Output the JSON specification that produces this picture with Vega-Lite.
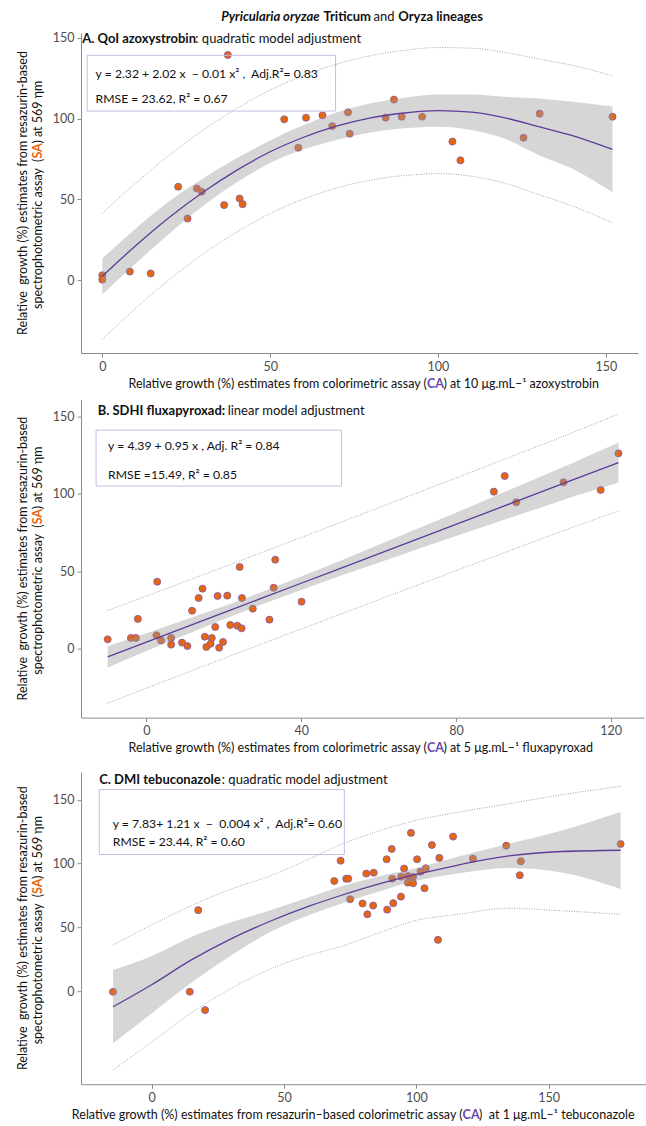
{
  "$schema": "https://vega.github.io/schema/vega-lite/v6.json",
  "padding": {"left": 16, "top": 11, "right": 0, "bottom": 0},
  "spacing": 8.6,
  "config": {
    "view": {"stroke": null},
    "font": "Lato",
    "axis": {"domainColor": "#8c8c8c", "tickColor": "#8c8c8c", "labelColor": "#4d4d4d", "labelFontSize": 12.5, "grid": false, "tickSize": 4, "labelPadding": 3, "title": null},
    "text": {"fontSize": 12.5, "baseline": "middle", "color": "#111111"}
  },
  "datasets": {
    "one": [{"k": 1}],
    "ptsA": [{"x":0,"y":3.1},{"x":0,"y":0.4},{"x":8.2,"y":5.4},{"x":14.4,"y":4.2},{"x":22.6,"y":57.9},{"x":25.4,"y":38.2},{"x":28.2,"y":56.8},{"x":29.6,"y":54.8},{"x":36.3,"y":46.5},{"x":37.4,"y":139.4},{"x":40.9,"y":50.6},{"x":41.8,"y":47.1},{"x":54.2,"y":99.6},{"x":58.4,"y":82.0},{"x":60.7,"y":100.6},{"x":65.6,"y":102.0},{"x":68.5,"y":95.4},{"x":73.2,"y":103.9},{"x":73.7,"y":90.7},{"x":84.4,"y":100.6},{"x":86.9,"y":111.8},{"x":89.2,"y":101.2},{"x":95.3,"y":101.2},{"x":104.3,"y":85.8},{"x":106.7,"y":74.2},{"x":125.5,"y":88.2},{"x":130.3,"y":103.1},{"x":152,"y":101.2}],
    "crvA": [{"x":0,"fit":2.5,"lo":-8.8,"hi":13.5,"plo":-36.5,"phi":41.5},{"x":10,"fit":21.5,"lo":10.5,"hi":32,"plo":-17.2,"phi":60.2},{"x":20,"fit":39,"lo":29,"hi":49,"plo":0.5,"phi":77.5},{"x":30,"fit":54.5,"lo":46,"hi":63,"plo":16.2,"phi":92.8},{"x":40,"fit":68,"lo":60.5,"hi":75.5,"plo":29.8,"phi":106.2},{"x":50,"fit":79.5,"lo":72.5,"hi":86.5,"plo":41.3,"phi":117.7},{"x":60,"fit":88.5,"lo":81,"hi":96,"plo":50.3,"phi":126.7},{"x":70,"fit":95.5,"lo":87,"hi":104,"plo":57.2,"phi":133.8},{"x":80,"fit":100.5,"lo":91.5,"hi":109.5,"plo":62,"phi":139},{"x":90,"fit":103.5,"lo":94,"hi":113,"plo":64.8,"phi":142.2},{"x":100,"fit":105,"lo":95,"hi":115,"plo":66,"phi":144},{"x":110,"fit":104,"lo":93,"hi":115,"plo":64.4,"phi":143.6},{"x":120,"fit":100.5,"lo":87.5,"hi":113.5,"plo":60,"phi":141},{"x":130,"fit":95,"lo":77.5,"hi":112.5,"plo":53,"phi":137},{"x":140,"fit":89.5,"lo":69,"hi":110.5,"plo":46,"phi":133},{"x":152,"fit":81,"lo":54.5,"hi":107.5,"plo":35.5,"phi":126.5}],
    "ptsB": [{"x":-10.0,"y":6.2},{"x":-4.0,"y":7.1},{"x":-2.7,"y":7.1},{"x":-2.2,"y":19.4},{"x":2.8,"y":43.4},{"x":2.6,"y":8.8},{"x":3.8,"y":5.5},{"x":6.4,"y":7.1},{"x":6.4,"y":2.8},{"x":9.2,"y":4.1},{"x":10.6,"y":1.9},{"x":11.8,"y":24.7},{"x":13.5,"y":32.9},{"x":14.5,"y":38.9},{"x":15.1,"y":7.9},{"x":15.5,"y":1.3},{"x":16.6,"y":3.4},{"x":16.9,"y":7.1},{"x":17.8,"y":14.2},{"x":18.4,"y":34.2},{"x":18.8,"y":0.8},{"x":19.8,"y":4.5},{"x":20.9,"y":34.4},{"x":21.7,"y":15.5},{"x":23.5,"y":15.0},{"x":24.1,"y":52.9},{"x":24.6,"y":13.3},{"x":24.7,"y":32.9},{"x":27.5,"y":26.0},{"x":31.8,"y":18.9},{"x":32.9,"y":39.5},{"x":33.3,"y":57.6},{"x":40.1,"y":30.5},{"x":89.8,"y":101.5},{"x":92.6,"y":111.6},{"x":95.6,"y":94.6},{"x":107.8,"y":107.5},{"x":117.4,"y":102.6},{"x":122.0,"y":126.2}],
    "crvB": [{"x":-10,"fit":-5.1,"lo":-12.0,"hi":1.8,"plo":-35,"phi":24.8},{"x":0,"fit":4.4,"lo":-1.4,"hi":10.2,"plo":-25.3,"phi":34.1},{"x":10,"fit":13.9,"lo":9.0,"hi":18.8,"plo":-15.7,"phi":43.5},{"x":20,"fit":23.4,"lo":19.2,"hi":27.6,"plo":-6.1,"phi":52.9},{"x":30,"fit":32.9,"lo":28.9,"hi":36.9,"plo":3.4,"phi":62.4},{"x":40,"fit":42.4,"lo":38.0,"hi":46.8,"plo":12.9,"phi":71.9},{"x":50,"fit":51.9,"lo":47.0,"hi":56.8,"plo":22.3,"phi":81.5},{"x":60,"fit":61.4,"lo":55.6,"hi":67.2,"plo":31.7,"phi":91.1},{"x":70,"fit":70.9,"lo":64.3,"hi":77.5,"plo":41.1,"phi":100.7},{"x":80,"fit":80.4,"lo":72.9,"hi":87.9,"plo":50.5,"phi":110.3},{"x":90,"fit":89.9,"lo":81.3,"hi":98.5,"plo":59.8,"phi":120},{"x":100,"fit":99.4,"lo":89.6,"hi":109.2,"plo":69.1,"phi":129.7},{"x":110,"fit":108.9,"lo":98.0,"hi":119.8,"plo":78.4,"phi":139.4},{"x":122,"fit":120.3,"lo":107.4,"hi":133.2,"plo":89.0,"phi":151.6}],
    "ptsC": [{"x":-14.6,"y":-0.5},{"x":14.4,"y":-0.5},{"x":17.6,"y":63.5},{"x":20.2,"y":-14.9},{"x":69.0,"y":86.4},{"x":71.4,"y":102.3},{"x":73.5,"y":88.2},{"x":74.3,"y":88.2},{"x":75.0,"y":72.1},{"x":79.7,"y":68.7},{"x":81.1,"y":92.2},{"x":81.5,"y":60.3},{"x":83.7,"y":67.1},{"x":83.9,"y":92.9},{"x":88.8,"y":103.4},{"x":89.0,"y":63.9},{"x":90.7,"y":111.5},{"x":90.9,"y":88.2},{"x":91.3,"y":69.0},{"x":94.2,"y":74.1},{"x":94.3,"y":89.8},{"x":95.4,"y":96.1},{"x":96.9,"y":90.3},{"x":96.8,"y":85.1},{"x":98.0,"y":124.1},{"x":98.8,"y":89.6},{"x":98.8,"y":84.6},{"x":100.3,"y":103.4},{"x":101.6,"y":93.7},{"x":103.1,"y":80.7},{"x":103.6,"y":96.4},{"x":105.9,"y":114.6},{"x":108.2,"y":40.2},{"x":108.7,"y":104.5},{"x":113.9,"y":121.2},{"x":121.4,"y":103.9},{"x":134.0,"y":114.1},{"x":139.5,"y":101.9},{"x":139.1,"y":90.9},{"x":177.2,"y":115.4}],
    "crvC": [{"x":-14.6,"fit":-12.3,"lo":-41,"hi":16.5,"plo":-61.9,"phi":36.1},{"x":0,"fit":5,"lo":-17.5,"hi":27.5,"plo":-40,"phi":52},{"x":15,"fit":24.5,"lo":6.5,"hi":42.5,"plo":-17,"phi":67},{"x":30,"fit":41,"lo":28,"hi":54,"plo":2,"phi":80},{"x":45,"fit":55,"lo":46.5,"hi":63.5,"plo":17.5,"phi":90.5},{"x":60,"fit":67,"lo":60,"hi":74,"plo":28.5,"phi":104},{"x":71.5,"fit":75,"lo":68.5,"hi":82,"plo":35,"phi":115},{"x":85,"fit":83.5,"lo":77.5,"hi":89.5,"plo":45,"phi":125},{"x":100,"fit":91.5,"lo":86.5,"hi":96.5,"plo":55.5,"phi":134},{"x":115,"fit":98.5,"lo":92,"hi":105,"plo":60,"phi":140},{"x":135,"fit":106,"lo":96.5,"hi":115.5,"plo":65,"phi":147},{"x":155,"fit":109.5,"lo":93,"hi":126,"plo":63,"phi":154},{"x":177.2,"fit":110.5,"lo":80,"hi":140.5,"plo":60.3,"phi":160.6}]
  },
  "vconcat": [
    {
      "width": 557, "height": 320,
      "layer": [
        {"data": {"name": "ptsA"}, "mark": {"type": "circle", "fill": "#e8650e", "stroke": "#7b5cb5", "strokeWidth": 0.8, "size": 50, "opacity": 1},
         "encoding": {"x": {"field": "x", "type": "quantitative", "scale": {"domain": [-6.35, 159.6], "nice": false, "zero": false}, "axis": {"values": [0, 50, 100, 150]}},
                      "y": {"field": "y", "type": "quantitative", "scale": {"domain": [-45, 153], "nice": false, "zero": false}, "axis": {"values": [0, 50, 100, 150]}}}},
        {"data": {"name": "crvA"}, "mark": {"type": "area", "fill": "#999999", "opacity": 0.4, "interpolate": "monotone"}, "encoding": {"x": {"field": "x", "type": "quantitative"}, "y": {"field": "lo", "type": "quantitative"}, "y2": {"field": "hi"}}},
        {"data": {"name": "crvA"}, "mark": {"type": "line", "stroke": "#8c8c8c", "strokeWidth": 0.8, "strokeDash": [1, 1.5], "interpolate": "monotone"}, "encoding": {"x": {"field": "x", "type": "quantitative"}, "y": {"field": "plo", "type": "quantitative"}}},
        {"data": {"name": "crvA"}, "mark": {"type": "line", "stroke": "#8c8c8c", "strokeWidth": 0.8, "strokeDash": [1, 1.5], "interpolate": "monotone"}, "encoding": {"x": {"field": "x", "type": "quantitative"}, "y": {"field": "phi", "type": "quantitative"}}},
        {"data": {"name": "crvA"}, "mark": {"type": "line", "stroke": "#5e3c99", "strokeWidth": 1.3, "interpolate": "monotone"}, "encoding": {"x": {"field": "x", "type": "quantitative"}, "y": {"field": "fit", "type": "quantitative"}}},
        {"data": {"name": "one"}, "mark": {"type": "rect", "fill": null, "stroke": "#c4bce3", "strokeWidth": 1}, "encoding": {"x": {"datum": -4.5}, "x2": {"datum": 69.5}, "y": {"datum": 139.2}, "y2": {"datum": 104.7}}},
        {"data": {"name": "one"}, "mark": {"type": "text", "align": "left", "fontSize": 13, "fontWeight": "bold"}, "encoding": {"x": {"datum": -6}, "y": {"datum": 149.1}, "text": {"value": "A. QoI azoxystrobin"}}},
        {"data": {"name": "one"}, "mark": {"type": "text", "align": "left", "fontSize": 13}, "encoding": {"x": {"datum": 27.7}, "y": {"datum": 149.1}, "text": {"value": ": quadratic model adjustment"}}},
        {"data": {"name": "one"}, "mark": {"type": "text", "align": "left", "fontSize": 12.2}, "encoding": {"x": {"datum": -2}, "y": {"datum": 127.4}, "text": {"value": "y = 2.32 + 2.02 x \u00a0− 0.01 x² , \u00a0Adj.R²= 0.83"}}},
        {"data": {"name": "one"}, "mark": {"type": "text", "align": "left", "fontSize": 12.2}, "encoding": {"x": {"datum": -2}, "y": {"datum": 112}, "text": {"value": "RMSE = 23.62, R² = 0.67"}}},
        {"data": {"name": "one"}, "mark": {"type": "text", "align": "right", "fontSize": 13, "fontWeight": "bold", "fontStyle": "italic"}, "encoding": {"x": {"datum": 64.71}, "y": {"datum": 162.8}, "text": {"value": "Pyricularia oryzae"}}},
        {"data": {"name": "one"}, "mark": {"type": "text", "align": "left", "fontSize": 13, "fontWeight": "bold", "dx": 4}, "encoding": {"x": {"datum": 64.71}, "y": {"datum": 162.8}, "text": {"value": "Triticum"}}},
        {"data": {"name": "one"}, "mark": {"type": "text", "align": "left", "fontSize": 13, "dx": 54}, "encoding": {"x": {"datum": 64.71}, "y": {"datum": 162.8}, "text": {"value": "and"}}},
        {"data": {"name": "one"}, "mark": {"type": "text", "align": "left", "fontSize": 13, "fontWeight": "bold", "dx": 78.8}, "encoding": {"x": {"datum": 64.71}, "y": {"datum": 162.8}, "text": {"value": "Oryza lineages"}}},
        {"data": {"name": "one"}, "mark": {"type": "text", "align": "right"}, "encoding": {"x": {"datum": 96.7}, "y": {"datum": -64}, "text": {"value": "Relative growth (%) estimates from colorimetric assay ("}}},
        {"data": {"name": "one"}, "mark": {"type": "text", "align": "left", "fontWeight": "bold", "color": "#6a46a8"}, "encoding": {"x": {"datum": 96.7}, "y": {"datum": -64}, "text": {"value": "CA"}}},
        {"data": {"name": "one"}, "mark": {"type": "text", "align": "left", "dx": 16.5}, "encoding": {"x": {"datum": 96.7}, "y": {"datum": -64}, "text": {"value": ") at 10 μg.mL–¹ azoxystrobin"}}},
        {"data": {"name": "one"}, "mark": {"type": "text", "align": "center", "angle": 270}, "encoding": {"x": {"datum": -23.62}, "y": {"datum": 54}, "text": {"value": "Relative \u00a0growth (%) estimates from resazurin-based"}}},
        {"data": {"name": "one"}, "mark": {"type": "text", "align": "right", "angle": 270}, "encoding": {"x": {"datum": -19.15}, "y": {"datum": 75.3}, "text": {"value": "spectrophotometric assay \u00a0("}}},
        {"data": {"name": "one"}, "mark": {"type": "text", "align": "left", "angle": 270, "fontWeight": "bold", "color": "#e8650e"}, "encoding": {"x": {"datum": -19.15}, "y": {"datum": 75.3}, "text": {"value": "SA"}}},
        {"data": {"name": "one"}, "mark": {"type": "text", "align": "left", "angle": 270, "dx": 15}, "encoding": {"x": {"datum": -19.15}, "y": {"datum": 75.3}, "text": {"value": ") at 569 ηm"}}}
      ]
    },
    {
      "width": 563, "height": 318,
      "layer": [
        {"data": {"name": "ptsB"}, "mark": {"type": "circle", "fill": "#e8650e", "stroke": "#7b5cb5", "strokeWidth": 0.8, "size": 50, "opacity": 1},
         "encoding": {"x": {"field": "x", "type": "quantitative", "scale": {"domain": [-16.9, 128.6], "nice": false, "zero": false}, "axis": {"values": [0, 40, 80, 120]}},
                      "y": {"field": "y", "type": "quantitative", "scale": {"domain": [-44.3, 160.9], "nice": false, "zero": false}, "axis": {"values": [0, 50, 100, 150]}}}},
        {"data": {"name": "crvB"}, "mark": {"type": "area", "fill": "#999999", "opacity": 0.4}, "encoding": {"x": {"field": "x", "type": "quantitative"}, "y": {"field": "lo", "type": "quantitative"}, "y2": {"field": "hi"}}},
        {"data": {"name": "crvB"}, "mark": {"type": "line", "stroke": "#8c8c8c", "strokeWidth": 0.8, "strokeDash": [1, 1.5]}, "encoding": {"x": {"field": "x", "type": "quantitative"}, "y": {"field": "plo", "type": "quantitative"}}},
        {"data": {"name": "crvB"}, "mark": {"type": "line", "stroke": "#8c8c8c", "strokeWidth": 0.8, "strokeDash": [1, 1.5]}, "encoding": {"x": {"field": "x", "type": "quantitative"}, "y": {"field": "phi", "type": "quantitative"}}},
        {"data": {"name": "crvB"}, "mark": {"type": "line", "stroke": "#5e3c99", "strokeWidth": 1.3}, "encoding": {"x": {"field": "x", "type": "quantitative"}, "y": {"field": "fit", "type": "quantitative"}}},
        {"data": {"name": "one"}, "mark": {"type": "rect", "fill": null, "stroke": "#c4bce3", "strokeWidth": 1}, "encoding": {"x": {"datum": -13.0}, "x2": {"datum": 50.4}, "y": {"datum": 141.2}, "y2": {"datum": 105.1}}},
        {"data": {"name": "one"}, "mark": {"type": "text", "align": "left", "fontSize": 13, "fontWeight": "bold"}, "encoding": {"x": {"datum": -12.6}, "y": {"datum": 153.4}, "text": {"value": "B. SDHI fluxapyroxad:"}}},
        {"data": {"name": "one"}, "mark": {"type": "text", "align": "left", "fontSize": 13}, "encoding": {"x": {"datum": 21.0}, "y": {"datum": 153.4}, "text": {"value": "linear model adjustment"}}},
        {"data": {"name": "one"}, "mark": {"type": "text", "align": "left", "fontSize": 12.2}, "encoding": {"x": {"datum": -9.9}, "y": {"datum": 130.7}, "text": {"value": "y = 4.39 + 0.95 x , Adj. R² = 0.84"}}},
        {"data": {"name": "one"}, "mark": {"type": "text", "align": "left", "fontSize": 12.2}, "encoding": {"x": {"datum": -9.9}, "y": {"datum": 112.3}, "text": {"value": "RMSE =15.49, R² = 0.85"}}},
        {"data": {"name": "one"}, "mark": {"type": "text", "align": "right"}, "encoding": {"x": {"datum": 72.5}, "y": {"datum": -64.1}, "text": {"value": "Relative growth (%) estimates from colorimetric assay ("}}},
        {"data": {"name": "one"}, "mark": {"type": "text", "align": "left", "fontWeight": "bold", "color": "#6a46a8"}, "encoding": {"x": {"datum": 72.5}, "y": {"datum": -64.1}, "text": {"value": "CA"}}},
        {"data": {"name": "one"}, "mark": {"type": "text", "align": "left", "dx": 16.5}, "encoding": {"x": {"datum": 72.5}, "y": {"datum": -64.1}, "text": {"value": ") at 5 μg.mL–¹ fluxapyroxad"}}},
        {"data": {"name": "one"}, "mark": {"type": "text", "align": "center", "angle": 270}, "encoding": {"x": {"datum": -31.88}, "y": {"datum": 58.3}, "text": {"value": "Relative \u00a0growth (%) estimates from resazurin-based"}}},
        {"data": {"name": "one"}, "mark": {"type": "text", "align": "right", "angle": 270}, "encoding": {"x": {"datum": -28.0}, "y": {"datum": 80.4}, "text": {"value": "spectrophotometric assay \u00a0("}}},
        {"data": {"name": "one"}, "mark": {"type": "text", "align": "left", "angle": 270, "fontWeight": "bold", "color": "#e8650e"}, "encoding": {"x": {"datum": -28.0}, "y": {"datum": 80.4}, "text": {"value": "SA"}}},
        {"data": {"name": "one"}, "mark": {"type": "text", "align": "left", "angle": 270, "dx": 15}, "encoding": {"x": {"datum": -28.0}, "y": {"datum": 80.4}, "text": {"value": ") at 569 ηm"}}}
      ]
    },
    {
      "width": 565, "height": 312,
      "layer": [
        {"data": {"name": "ptsC"}, "mark": {"type": "circle", "fill": "#e8650e", "stroke": "#7b5cb5", "strokeWidth": 0.8, "size": 50, "opacity": 1},
         "encoding": {"x": {"field": "x", "type": "quantitative", "scale": {"domain": [-26.7, 186.8], "nice": false, "zero": false}, "axis": {"values": [0, 50, 100, 150]}},
                      "y": {"field": "y", "type": "quantitative", "scale": {"domain": [-73, 171.7], "nice": false, "zero": false}, "axis": {"values": [0, 50, 100, 150]}}}},
        {"data": {"name": "crvC"}, "mark": {"type": "area", "fill": "#999999", "opacity": 0.4, "interpolate": "monotone"}, "encoding": {"x": {"field": "x", "type": "quantitative"}, "y": {"field": "lo", "type": "quantitative"}, "y2": {"field": "hi"}}},
        {"data": {"name": "crvC"}, "mark": {"type": "line", "stroke": "#8c8c8c", "strokeWidth": 0.8, "strokeDash": [1, 1.5], "interpolate": "monotone"}, "encoding": {"x": {"field": "x", "type": "quantitative"}, "y": {"field": "plo", "type": "quantitative"}}},
        {"data": {"name": "crvC"}, "mark": {"type": "line", "stroke": "#8c8c8c", "strokeWidth": 0.8, "strokeDash": [1, 1.5], "interpolate": "monotone"}, "encoding": {"x": {"field": "x", "type": "quantitative"}, "y": {"field": "phi", "type": "quantitative"}}},
        {"data": {"name": "crvC"}, "mark": {"type": "line", "stroke": "#5e3c99", "strokeWidth": 1.3, "interpolate": "monotone"}, "encoding": {"x": {"field": "x", "type": "quantitative"}, "y": {"field": "fit", "type": "quantitative"}}},
        {"data": {"name": "one"}, "mark": {"type": "rule", "strokeOpacity": 0, "opacity": 0}, "encoding": {"x": {"datum": 0}, "y": {"datum": 171.7}, "y2": {"datum": 177.74}}},
        {"data": {"name": "one"}, "mark": {"type": "rect", "fill": null, "stroke": "#c4bce3", "strokeWidth": 1}, "encoding": {"x": {"datum": -19.8}, "x2": {"datum": 72.8}, "y": {"datum": 158.1}, "y2": {"datum": 107.1}}},
        {"data": {"name": "one"}, "mark": {"type": "text", "align": "left", "fontSize": 13, "fontWeight": "bold"}, "encoding": {"x": {"datum": -19.8}, "y": {"datum": 165.4}, "text": {"value": "C. DMI tebuconazole"}}},
        {"data": {"name": "one"}, "mark": {"type": "text", "align": "left", "fontSize": 13}, "encoding": {"x": {"datum": 26.5}, "y": {"datum": 165.4}, "text": {"value": ": quadratic model adjustment"}}},
        {"data": {"name": "one"}, "mark": {"type": "text", "align": "left", "fontSize": 12.2}, "encoding": {"x": {"datum": -14.7}, "y": {"datum": 131.2}, "text": {"value": "y = 7.83+ 1.21 x \u00a0− \u00a00.004 x² , \u00a0Adj.R²= 0.60"}}},
        {"data": {"name": "one"}, "mark": {"type": "text", "align": "left", "fontSize": 12.2}, "encoding": {"x": {"datum": -14.7}, "y": {"datum": 117.3}, "text": {"value": "RMSE = 23.44, R² = 0.60"}}},
        {"data": {"name": "one"}, "mark": {"type": "text", "align": "right"}, "encoding": {"x": {"datum": 117.5}, "y": {"datum": -97}, "text": {"value": "Relative growth (%) estimates from resazurin–based colorimetric assay ("}}},
        {"data": {"name": "one"}, "mark": {"type": "text", "align": "left", "fontWeight": "bold", "color": "#6a46a8"}, "encoding": {"x": {"datum": 117.5}, "y": {"datum": -97}, "text": {"value": "CA"}}},
        {"data": {"name": "one"}, "mark": {"type": "text", "align": "left", "dx": 16.5}, "encoding": {"x": {"datum": 117.5}, "y": {"datum": -97}, "text": {"value": ") \u00a0at 1 μg.mL–¹ tebuconazole"}}},
        {"data": {"name": "one"}, "mark": {"type": "text", "align": "center", "angle": 270}, "encoding": {"x": {"datum": -48.62}, "y": {"datum": 49.35}, "text": {"value": "Relative \u00a0growth (%) estimates from resazurin-based"}}},
        {"data": {"name": "one"}, "mark": {"type": "text", "align": "right", "angle": 270}, "encoding": {"x": {"datum": -42.95}, "y": {"datum": 76.2}, "text": {"value": "spectrophotometric assay \u00a0("}}},
        {"data": {"name": "one"}, "mark": {"type": "text", "align": "left", "angle": 270, "fontWeight": "bold", "color": "#e8650e"}, "encoding": {"x": {"datum": -42.95}, "y": {"datum": 76.2}, "text": {"value": "SA"}}},
        {"data": {"name": "one"}, "mark": {"type": "text", "align": "left", "angle": 270, "dx": 15}, "encoding": {"x": {"datum": -42.95}, "y": {"datum": 76.2}, "text": {"value": ") at 569 ηm"}}}
      ]
    }
  ]
}
